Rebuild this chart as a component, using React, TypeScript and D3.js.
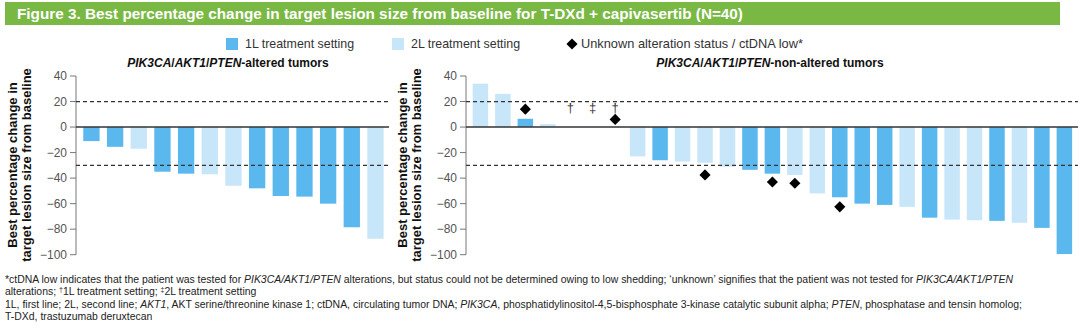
import React from "react";
import * as d3 from "d3";

const W = 1080;
const H = 328;

// ---- Data ----
const yTicks = [40, 20, 0, -20, -40, -60, -80, -100];
const refLines = [20, -30];

const leftValues = [-11, -15.5, -17, -35, -36.5, -37, -46, -48, -54, -54.5, -60, -78.5, -87.5];
const leftSetting = ["1L", "1L", "2L", "1L", "1L", "2L", "2L", "1L", "1L", "1L", "1L", "1L", "2L"];

const rightValues: (number | null)[] = [34, 26, 6.5, 2.3, null, null, null, -23, -26, -27, -28, -31, -33.5, -36.5, -37.5, -52, -55, -60, -61, -62.5, -71, -72.5, -73, -73.5, -75, -79, -99.5];
const rightSetting: (string | null)[] = ["2L", "2L", "1L", "2L", null, null, null, "2L", "1L", "2L", "2L", "2L", "1L", "1L", "2L", "2L", "1L", "1L", "1L", "2L", "1L", "2L", "2L", "1L", "2L", "1L", "1L"];
const rightDiamondIdx = [2, 6, 10, 13, 14, 16];
const rightDiamondVal = [14, 6, -37.5, -43, -44, -62.5];
const rightDaggerIdx = [4, 5, 6];
const rightDaggerSym = ["†", "‡", "†"];

const colors: Record<string, string> = { "1L": "#5bb8ee", "2L": "#c8e6f9" };

const FONT = "Liberation Sans, Arial, sans-serif";

const y = d3.scaleLinear().domain([-100, 40]).range([254.7, 76]);

function Panel({ x0, x1, bandStart, bandEnd, values, settings, title, labelX }: any) {
  const idx = values.map((_: any, i: number) => i);
  const x = d3.scaleBand<number>().domain(idx).range([bandStart, bandEnd]).paddingInner(0.31).paddingOuter(0.155);
  return (
    <g>
      {/* y label */}
      <text
        transform={`translate(${labelX},165) rotate(-90)`}
        textAnchor="middle"
        fontFamily={FONT}
        fontWeight="bold"
        fontSize={13}
        fill="#111"
      >
        <tspan x={0} dy={0}>Best percentage change in</tspan>
        <tspan x={0} dy={14}>target lesion size from baseline</tspan>
      </text>
      {/* axis */}
      <line x1={x0} x2={x0} y1={y(40)} y2={y(-100)} stroke="#777" strokeWidth={1} />
      {yTicks.map((t) => (
        <g key={t}>
          <line x1={x0 - 6} x2={x0} y1={y(t)} y2={y(t)} stroke="#777" />
          <text x={x0 - 9} y={y(t)} dy="0.35em" textAnchor="end" fontFamily={FONT} fontSize={12} fill="#555">
            {d3.format("")(t)}
          </text>
        </g>
      ))}
      {/* bars */}
      {values.map((v: number | null, i: number) =>
        v == null ? null : (
          <rect
            key={i}
            x={x(i)}
            width={x.bandwidth()}
            y={Math.min(y(v), y(0))}
            height={Math.abs(y(v) - y(0))}
            fill={colors[settings[i]]}
          />
        )
      )}
      {/* reference lines */}
      {refLines.map((r) => (
        <line key={r} x1={x0} x2={x1} y1={y(r)} y2={y(r)} stroke="#333" strokeWidth={1.3} strokeDasharray="4,3" />
      ))}
      <line x1={x0} x2={x1} y1={y(0)} y2={y(0)} stroke="#333" strokeWidth={1.5} />
      {title}
    </g>
  );
}

const diamondPath = d3.symbol().type(d3.symbolSquare).size(62)() as string;

export default function App() {
  const rightX = d3.scaleBand<number>().domain(rightValues.map((_, i) => i)).range([469.2, 1075.6]).paddingInner(0.31).paddingOuter(0.155);
  const rc = (i: number) => (rightX(i) as number) + rightX.bandwidth() / 2;

  return (
    <div style={{ position: "absolute", left: 0, top: 0 }}>
      <svg width={W} height={H} style={{ display: "block", background: "#fff" }}>
        {/* title bar */}
        <rect x={5} y={2} width={1055} height={23} fill="#7ab844" />
        <text x={17} y={19} fontFamily={FONT} fontWeight="bold" fontSize={15.3} fill="#fff">
          Figure 3. Best percentage change in target lesion size from baseline for T-DXd + capivasertib (N=40)
        </text>

        {/* legend */}
        <rect x={226} y={38} width={12} height={12} fill={colors["1L"]} />
        <text x={245} y={48} fontFamily={FONT} fontSize={12.4} fill="#333">1L treatment setting</text>
        <rect x={392} y={38} width={12} height={12} fill={colors["2L"]} />
        <text x={411} y={48} fontFamily={FONT} fontSize={12.4} fill="#333">2L treatment setting</text>
        <path d={diamondPath} transform="translate(572,44) rotate(45)" fill="#000" />
        <text x={581} y={48} fontFamily={FONT} fontSize={12.8} fill="#333">Unknown alteration status / ctDNA low*</text>

        <Panel
          x0={76}
          x1={389}
          bandStart={79.6}
          bandEnd={387.3}
          values={leftValues}
          settings={leftSetting}
          labelX={16.5}
          title={
            <text x={228} y={67} textAnchor="middle" fontFamily={FONT} fontWeight="bold" fontSize={12} fill="#111">
              <tspan fontStyle="italic">PIK3CA</tspan>/<tspan fontStyle="italic">AKT1</tspan>/<tspan fontStyle="italic">PTEN</tspan>-altered tumors
            </text>
          }
        />
        <Panel
          x0={466}
          x1={1078}
          bandStart={469.2}
          bandEnd={1075.6}
          values={rightValues}
          settings={rightSetting}
          labelX={406.5}
          title={
            <text x={770} y={67} textAnchor="middle" fontFamily={FONT} fontWeight="bold" fontSize={12} fill="#111">
              <tspan fontStyle="italic">PIK3CA</tspan>/<tspan fontStyle="italic">AKT1</tspan>/<tspan fontStyle="italic">PTEN</tspan>-non-altered tumors
            </text>
          }
        />
        {/* daggers */}
        {rightDaggerIdx.map((i, k) => (
          <text key={"dg" + k} x={rc(i)} y={112} textAnchor="middle" fontFamily={FONT} fontSize={13} fill="#333">
            {rightDaggerSym[k]}
          </text>
        ))}
        {/* diamonds */}
        {rightDiamondIdx.map((i, k) => (
          <path key={"dm" + k} d={diamondPath} transform={`translate(${rc(i)},${y(rightDiamondVal[k])}) rotate(45)`} fill="#000" />
        ))}

        {/* footnotes */}
        <g fontFamily={FONT} fontSize={10.45} fill="#222">
          <text x={5} y={283}>
            *ctDNA low indicates that the patient was tested for <tspan fontStyle="italic">PIK3CA/AKT1/PTEN</tspan> alterations, but status could not be determined owing to low shedding; ‘unknown’ signifies that the patient was not tested for <tspan fontStyle="italic">PIK3CA/AKT1/PTEN</tspan>
          </text>
          <text x={5} y={295}>
            alterations; <tspan fontSize={7} dy={-3}>†</tspan><tspan dy={3}>1L treatment setting; </tspan><tspan fontSize={7} dy={-3}>‡</tspan><tspan dy={3}>2L treatment setting</tspan>
          </text>
          <text x={5} y={308}>
            1L, first line; 2L, second line; <tspan fontStyle="italic">AKT1</tspan>, AKT serine/threonine kinase 1; ctDNA, circulating tumor DNA; <tspan fontStyle="italic">PIK3CA</tspan>, phosphatidylinositol-4,5-bisphosphate 3-kinase catalytic subunit alpha; <tspan fontStyle="italic">PTEN</tspan>, phosphatase and tensin homolog;
          </text>
          <text x={5} y={320}>T-DXd, trastuzumab deruxtecan</text>
        </g>
      </svg>
    </div>
  );
}
